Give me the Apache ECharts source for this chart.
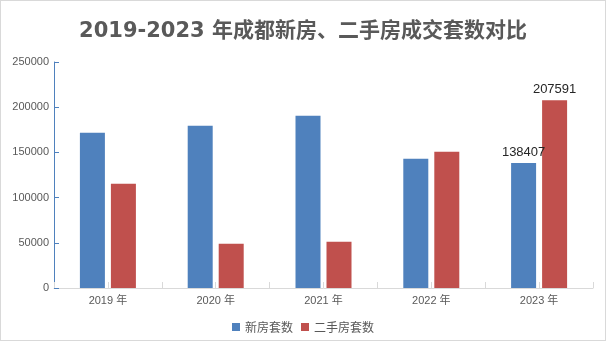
<!DOCTYPE html>
<html>
<head>
<meta charset="utf-8">
<script src="https://cdn.jsdelivr.net/npm/echarts@6/dist/echarts.min.js"></script>
<style>
  html, body { margin: 0; padding: 0; background: #ffffff; }
  #chart { width: 604px; height: 339px; border: 1px solid #d9d9d9; }
</style>
</head>
<body>
<div id="chart"></div>
<script>
// 成都 2019-2023 年新房、二手房成交套数
const years = ['2019 年', '2020 年', '2021 年', '2022 年', '2023 年'];
const newHomes = [171800, 179500, 190600, 143000, 138407];
const resaleHomes = [115400, 49000, 51200, 150800, 207591];
const labeledYear = '2023 年';
const yTicks = [0, 50000, 100000, 150000, 200000, 250000];

const textFont = '"Liberation Sans", "Noto Sans CJK SC", sans-serif';

function barLabel() {
  return {
    show: true,
    position: 'top',
    distance: 4,
    color: '#262626',
    fontSize: 13,
    fontFamily: textFont,
    formatter: p => (p.name === labeledYear ? String(p.value) : '')
  };
}

const chart = echarts.init(document.getElementById('chart'));
chart.setOption({
  animation: false,
  title: {
    text: '2019-2023 年成都新房、二手房成交套数对比',
    left: 'center',
    top: 15,
    textStyle: {
      color: '#595959',
      fontSize: 21,
      fontWeight: 'bold',
      fontFamily: '"DejaVu Sans", "Noto Sans CJK SC", sans-serif'
    }
  },
  legend: {
    bottom: 2,
    left: 'center',
    itemWidth: 8,
    itemHeight: 8,
    itemGap: 8,
    icon: 'rect',
    textStyle: { color: '#595959', fontSize: 12, fontFamily: '"Noto Sans CJK SC", sans-serif' },
    data: ['新房套数', '二手房套数']
  },
  grid: { left: 53, right: 12, top: 61, bottom: 52, containLabel: false },
  xAxis: [
    {
      type: 'category',
      data: years,
      axisLine: { lineStyle: { color: '#d9d9d9', width: 1 } },
      axisTick: { show: true, inside: true, length: 6, lineStyle: { color: '#d9d9d9' } },
      axisLabel: { color: '#595959', fontSize: 11, margin: 7, fontFamily: textFont }
    },
    {
      type: 'category',
      data: years,
      position: 'bottom',
      axisLine: { show: false },
      axisTick: { show: true, inside: true, alignWithLabel: true, length: 6, lineStyle: { color: '#d9d9d9' } },
      axisLabel: { show: false }
    }
  ],
  yAxis: {
    type: 'value',
    min: yTicks[0],
    max: yTicks[yTicks.length - 1],
    interval: yTicks[1] - yTicks[0],
    axisLine: { show: true, lineStyle: { color: '#4f81bd', width: 1 } },
    axisTick: { show: true, inside: true, length: 5, lineStyle: { color: '#4f81bd' } },
    splitLine: { show: false },
    axisLabel: {
      color: '#595959', fontSize: 11, margin: 5, fontFamily: textFont,
      formatter: v => String(v)
    }
  },
  series: [
    {
      name: '新房套数',
      type: 'bar',
      data: newHomes,
      barWidth: 25,
      barGap: '24%',
      itemStyle: { color: '#4f81bd' },
      label: barLabel()
    },
    {
      name: '二手房套数',
      type: 'bar',
      data: resaleHomes,
      barWidth: 25,
      itemStyle: { color: '#c0504d' },
      label: barLabel()
    }
  ]
});
</script>
</body>
</html>
